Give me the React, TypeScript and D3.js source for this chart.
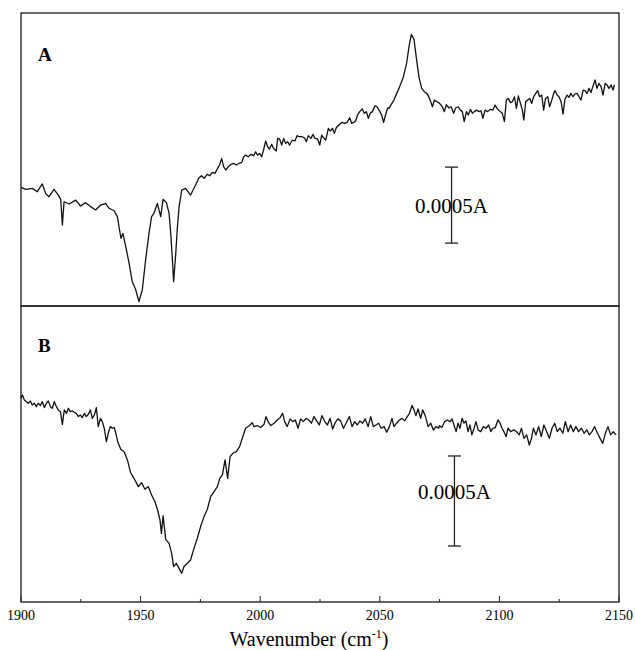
import React, { useEffect, useRef } from "react";
import * as d3 from "d3";

// wavenumber (cm-1) and absorbance (in 10^-3 A, arbitrary offset)
const wnA = [
  1900, 1902, 1904.7, 1906.8, 1908.9, 1910.3, 1911.7, 1913.8, 1915.6, 1916.6, 1917.3, 1918.0,
  1920.1, 1922.9, 1924.9, 1927.0, 1929.1, 1931.2, 1933.3, 1935.4, 1936.8, 1938.9, 1940.3, 1941.2,
  1941.8, 1942.6, 1943.8, 1945.2, 1946.5, 1947.9, 1949.3, 1950.7, 1952.1, 1953.5, 1954.6, 1955.6,
  1957.0, 1958.4, 1959.4, 1960.8, 1961.9, 1962.6, 1963.3, 1963.8, 1964.7, 1965.4, 1966.1, 1967.2,
  1968.8, 1970.9, 1973.0,
  1974.4, 1975.5, 1976.6, 1977.8, 1978.9, 1980.0, 1981.1, 1982.2, 1983.0, 1983.9, 1984.7, 1985.6,
  1986.7, 1987.8, 1988.9, 1990.0, 1991.1, 1992.3, 1993.1, 1993.9, 1995.0, 1996.2, 1997.3, 1998.1,
  1998.9, 1999.8, 2000.6, 2001.4, 2002.3, 2003.1, 2003.9, 2004.8, 2005.6, 2006.7, 2007.3, 2008.1,
  2009.0, 2009.8, 2010.6, 2011.5, 2012.3, 2013.4, 2014.5, 2015.4, 2016.2, 2017.3, 2018.5, 2019.3,
  2020.1, 2021.2, 2022.1, 2022.9, 2024.0, 2024.9, 2025.7, 2026.5, 2027.4, 2028.5, 2029.3, 2030.2,
  2031.0, 2031.8, 2032.9, 2034.1, 2035.2, 2036.3, 2037.4, 2038.2, 2039.1, 2039.9, 2040.7, 2041.6,
  2042.7, 2043.5, 2044.4, 2045.2, 2046.0, 2046.9, 2048.0, 2048.8, 2049.7, 2050.8, 2051.6, 2052.4,
  2053.3,
  2053.8, 2055.9, 2058.0, 2059.8, 2061.2, 2062.2, 2063.2, 2064.3, 2065.4, 2066.4,
  2067.5, 2068.6, 2069.7, 2070.8, 2072.0, 2072.8, 2073.9, 2075.0, 2076.1, 2077.0, 2077.8, 2078.9,
  2079.8, 2080.9, 2081.7, 2082.8, 2083.7, 2084.5, 2085.3, 2086.2, 2087.0, 2087.9, 2088.7, 2089.5,
  2090.4, 2091.5, 2092.3, 2093.1, 2094.0, 2095.1, 2096.2, 2097.3, 2098.2, 2099.3, 2100.4, 2101.2,
  2102.1, 2102.9, 2103.7, 2104.6, 2105.4, 2106.3, 2107.1, 2107.9, 2108.8, 2109.6, 2110.2, 2111.0,
  2111.8, 2112.7, 2113.5, 2114.3, 2115.2, 2116.0, 2116.8, 2117.7, 2118.5, 2119.3, 2120.2, 2121.0,
  2121.9, 2122.7, 2123.3, 2124.1, 2124.9, 2125.8, 2126.6, 2127.4, 2128.3, 2129.1, 2129.9, 2130.8,
  2131.6, 2132.4, 2133.3, 2134.1, 2135.0, 2135.8, 2136.6, 2137.5, 2138.3, 2139.1, 2140.0, 2140.8,
  2141.6, 2142.5, 2143.3, 2144.2, 2145.0, 2145.8, 2146.7, 2147.5, 2148.1,
];
const absA = [
  0.781, 0.768, 0.774, 0.752, 0.803, 0.741, 0.719, 0.768, 0.730, 0.702, 0.533, 0.686,
  0.671, 0.697, 0.658, 0.680, 0.654, 0.632, 0.664, 0.675, 0.643, 0.627, 0.588, 0.500,
  0.445, 0.478, 0.390, 0.281, 0.160, 0.110, 0.029, 0.105, 0.303, 0.478, 0.588, 0.610,
  0.675, 0.588, 0.702, 0.680, 0.610, 0.478, 0.303, 0.160, 0.346, 0.522, 0.654, 0.763,
  0.774, 0.730, 0.796,
  0.844, 0.857, 0.840, 0.866, 0.857, 0.879, 0.873, 0.906, 0.928, 0.971, 0.917, 0.895,
  0.917, 0.932, 0.939, 0.928, 0.939, 0.945, 0.982, 0.993, 0.982, 0.998, 0.989, 1.015,
  0.993, 1.004, 0.982, 1.026, 1.086, 1.048, 1.033, 1.064, 1.037, 1.020, 1.103, 1.099,
  1.059, 1.103, 1.070, 1.081, 1.059, 1.092, 1.086, 1.121, 1.114, 1.114, 1.107, 1.081,
  1.121, 1.103, 1.129, 1.103, 1.099, 1.059, 1.125, 1.107, 1.092, 1.169, 1.151, 1.169,
  1.136, 1.173, 1.191, 1.208, 1.202, 1.208, 1.239, 1.202, 1.208, 1.217, 1.257, 1.279,
  1.296, 1.268, 1.279, 1.235, 1.268, 1.279, 1.318, 1.311, 1.289, 1.257, 1.208, 1.257,
  1.303,
  1.300, 1.355, 1.432, 1.504, 1.596, 1.706, 1.787, 1.754, 1.618, 1.504,
  1.432, 1.410, 1.399, 1.366, 1.311, 1.355, 1.344, 1.333, 1.311, 1.279, 1.325, 1.303,
  1.311, 1.268, 1.303, 1.311, 1.289, 1.279, 1.213, 1.279, 1.257, 1.294, 1.268, 1.279,
  1.289, 1.279, 1.285, 1.235, 1.289, 1.279, 1.294, 1.289, 1.322, 1.294, 1.279, 1.268,
  1.213, 1.355, 1.366, 1.338, 1.344, 1.377, 1.300, 1.382, 1.333, 1.289, 1.224, 1.344,
  1.355, 1.366, 1.333, 1.377, 1.399, 1.417, 1.377, 1.388, 1.289, 1.366, 1.377, 1.311,
  1.355, 1.399, 1.417, 1.388, 1.377, 1.344, 1.263, 1.360, 1.388, 1.373, 1.399, 1.377,
  1.395, 1.399, 1.377, 1.355, 1.421, 1.417, 1.399, 1.432, 1.404, 1.447, 1.487, 1.432,
  1.465, 1.443, 1.388, 1.465, 1.454, 1.432, 1.454, 1.421, 1.454,
];

const wnB = [
  1900.0, 1900.6, 1901.4, 1902.2, 1903.1, 1903.9, 1904.7, 1905.6, 1906.4, 1907.2, 1908.1, 1908.9,
  1909.8, 1910.6, 1911.4, 1912.3, 1913.1, 1913.9, 1914.8, 1915.6, 1916.5, 1917.3, 1918.1, 1919.0,
  1919.8, 1920.6, 1921.5, 1922.3, 1923.1, 1924.0, 1924.8, 1925.6, 1926.5, 1927.3, 1928.2, 1929.0,
  1929.8, 1930.7, 1931.5, 1932.3, 1933.2, 1934.0, 1934.8, 1935.7, 1936.5, 1937.3, 1938.2, 1939.0,
  1939.8, 1940.4,
  1941.7, 1943.1, 1944.5, 1945.8, 1947.2, 1949.1, 1950.4, 1951.8, 1953.2, 1954.6, 1956.0, 1957.1,
  1958.1, 1958.7, 1959.4, 1960.5, 1961.9, 1963.0, 1963.8, 1964.9, 1966.1, 1967.2, 1968.1, 1969.5,
  1970.9, 1972.3, 1973.7, 1975.1, 1976.5, 1977.9, 1979.3, 1980.7, 1982.1, 1983.1, 1984.2, 1985.3,
  1986.4, 1987.4, 1988.6, 1990.0, 1991.4, 1992.8, 1993.9, 1995.3, 1996.7,
  1997.4, 1998.8, 2000.2, 2001.6, 2002.4, 2003.3, 2004.4, 2005.8, 2007.2, 2008.3, 2009.4, 2010.2,
  2011.3, 2012.5, 2013.6, 2014.7, 2015.8, 2016.9, 2018.0, 2019.2, 2020.3, 2021.4, 2022.5, 2023.6,
  2024.7, 2025.8, 2027.0, 2028.1, 2029.2, 2030.3, 2031.4, 2032.5, 2033.6, 2034.8, 2035.9, 2037.3,
  2038.4, 2039.5, 2040.6, 2041.7, 2042.8, 2043.9, 2045.1, 2046.2, 2047.3, 2048.4, 2049.5, 2050.6,
  2051.8, 2052.9, 2054.0, 2055.1, 2055.9, 2057.0, 2058.2, 2059.3, 2060.4, 2061.5, 2062.4, 2063.5,
  2064.3, 2065.1, 2066.0, 2067.1, 2067.9, 2069.0, 2070.2, 2071.3, 2072.4, 2073.5, 2074.6,
  2074.9, 2076.0, 2077.1, 2078.2, 2079.4, 2080.2, 2081.0, 2081.9, 2082.7, 2083.5, 2084.4, 2085.2,
  2086.0, 2086.9, 2087.7, 2088.5, 2089.4, 2090.2, 2091.1, 2092.2, 2093.3, 2094.4, 2095.5, 2096.4,
  2097.2, 2098.3, 2099.4, 2100.3, 2101.1, 2101.9, 2102.8, 2103.6, 2104.7, 2106.1, 2107.2, 2108.3,
  2109.2, 2110.3, 2111.4, 2112.5, 2113.4, 2114.2, 2115.3, 2116.4, 2117.5, 2118.6, 2119.8, 2120.9,
  2122.0, 2123.1, 2124.2, 2125.3, 2126.5, 2127.6, 2128.7, 2129.8, 2130.9, 2132.0, 2133.1, 2134.3,
  2135.4, 2136.5, 2137.6, 2138.7, 2139.8, 2141.0, 2142.1, 2143.2, 2144.3, 2145.4, 2146.5, 2147.6,
  2148.8,
];
const absB = [
  1.131, 1.150, 1.122, 1.113, 1.104, 1.117, 1.094, 1.104, 1.085, 1.104, 1.091, 1.113,
  1.080, 1.104, 1.117, 1.085, 1.076, 1.113, 1.085, 1.067, 1.057, 0.987, 1.067, 1.048,
  1.076, 1.057, 1.061, 1.054, 1.048, 1.030, 1.039, 1.024, 1.048, 1.030, 1.043, 1.067,
  1.020, 1.039, 1.080, 0.974, 1.020, 1.002, 0.965, 0.891, 0.937, 0.974, 0.965, 0.969,
  0.928, 0.891,
  0.848, 0.835, 0.789, 0.719, 0.687, 0.641, 0.663, 0.626, 0.641, 0.594, 0.557, 0.511,
  0.456, 0.381, 0.478, 0.348, 0.326, 0.270, 0.196, 0.215, 0.187, 0.159, 0.196, 0.215,
  0.233, 0.298, 0.354, 0.419, 0.474, 0.515, 0.585, 0.613, 0.641, 0.687, 0.706, 0.789,
  0.687, 0.807, 0.826, 0.835, 0.863, 0.922, 0.965, 0.978, 0.996,
  0.974, 0.980, 0.969, 0.987, 1.030, 1.002, 0.980, 0.993, 1.011, 1.024, 1.048, 1.002,
  0.974, 1.017, 1.002, 1.011, 0.965, 1.017, 1.002, 1.020, 1.011, 0.993, 1.030, 1.006,
  0.983, 1.035, 1.002, 0.983, 1.020, 0.961, 0.998, 1.017, 1.006, 0.965, 0.993, 1.030,
  0.974, 1.002, 0.983, 1.006, 0.993, 1.017, 0.974, 1.030, 0.974, 0.983, 0.993, 0.965,
  0.974, 0.943, 0.974, 1.020, 0.974, 0.993, 1.011, 1.020, 1.006, 1.030, 1.048, 1.091,
  1.067, 1.035, 1.072, 1.020, 1.067, 1.035, 0.974, 0.993, 0.955, 0.974, 0.965,
  0.980, 0.969, 1.002, 1.011, 1.002, 1.017, 0.983, 0.946, 0.993, 0.965, 1.020, 0.993,
  1.006, 0.946, 0.983, 0.928, 0.965, 1.002, 0.956, 0.946, 0.974, 0.965, 0.983, 0.946,
  0.965, 0.969, 1.011, 0.993, 0.965, 0.946, 0.919, 0.965, 0.946, 0.956, 0.946, 0.928,
  0.965, 0.909, 0.928, 0.872, 0.909, 0.965, 0.928, 0.974, 0.919, 0.983, 0.946, 0.909,
  0.965, 0.993, 0.946, 0.965, 0.937, 1.002, 0.946, 0.983, 0.946, 0.974, 0.946, 0.965,
  0.937, 0.956, 0.928, 0.946, 0.974, 0.937, 0.909, 0.881, 0.937, 0.974, 0.928, 0.946,
  0.928,
];

const xTicks = [1900, 1950, 2000, 2050, 2100, 2150];
const xMinorTicks = [1925, 1975, 2025, 2075, 2125];
const panelLabels = ["A", "B"];
const scaleBarText = "0.0005A";

const App = () => {
  const svgRef = useRef(null);

  useEffect(() => {
    const svg = d3.select(svgRef.current);
    svg.selectAll("*").remove();

    const left = 21, right = 619;
    const topA = 13, midY = 306, bottomB = 602;
    const serif = "'Liberation Serif', 'Times New Roman', serif";

    const x = d3.scaleLinear().domain([1900, 2150]).range([left, right]);
    const yA = d3.scaleLinear().domain([0, 1.928]).range([midY, topA]);
    const yB = d3.scaleLinear().domain([0, 1.644]).range([bottomB, midY]);

    const panels = [
      { wn: wnA, ab: absA, y: yA, top: topA, bottom: midY, bar: [2080, 0.414], labelY: 61, textY: 213 },
      { wn: wnB, ab: absB, y: yB, top: midY, bottom: bottomB, bar: [2081.2, 0.311], labelY: 352, textY: 499 },
    ];

    panels.forEach((p, i) => {
      svg.append("rect")
        .attr("x", left).attr("y", p.top)
        .attr("width", right - left).attr("height", p.bottom - p.top)
        .attr("fill", "none").attr("stroke", "#1a1a1a").attr("stroke-width", 1.3);

      const pts = p.wn.map((w, k) => [w, p.ab[k]]);
      const line = d3.line().x(d => x(d[0])).y(d => p.y(d[1]));
      svg.append("path")
        .datum(pts)
        .attr("d", line)
        .attr("fill", "none")
        .attr("stroke", "#111")
        .attr("stroke-width", 1.3)
        .attr("stroke-linejoin", "round");

      svg.append("text")
        .attr("x", 38).attr("y", p.labelY)
        .attr("font-family", serif).attr("font-weight", "bold").attr("font-size", 19)
        .text(panelLabels[i]);

      // 0.0005 A scale bar
      const bx = x(p.bar[0]);
      const b0 = p.y(p.bar[1]);
      const b1 = p.y(p.bar[1] + 0.5);
      const g = svg.append("g").attr("stroke", "#222").attr("stroke-width", 1.3);
      g.append("line").attr("x1", bx).attr("x2", bx).attr("y1", b0).attr("y2", b1);
      g.append("line").attr("x1", bx - 6.5).attr("x2", bx + 6.5).attr("y1", b0).attr("y2", b0);
      g.append("line").attr("x1", bx - 6.5).attr("x2", bx + 6.5).attr("y1", b1).attr("y2", b1);
      svg.append("text")
        .attr("x", bx).attr("y", p.textY)
        .attr("text-anchor", "middle")
        .attr("font-family", serif).attr("font-size", 21)
        .text(scaleBarText);
    });

    // bottom axis, ticks pointing inward
    const axis = svg.append("g").attr("stroke", "#222").attr("stroke-width", 1);
    xTicks.forEach(t => {
      axis.append("line").attr("x1", x(t)).attr("x2", x(t)).attr("y1", bottomB).attr("y2", bottomB - 6);
    });
    xMinorTicks.forEach(t => {
      axis.append("line").attr("x1", x(t)).attr("x2", x(t)).attr("y1", bottomB).attr("y2", bottomB - 3);
    });
    svg.selectAll(".tick-label")
      .data(xTicks)
      .enter().append("text")
      .attr("class", "tick-label")
      .attr("x", d => x(d))
      .attr("y", 620)
      .attr("text-anchor", "middle")
      .attr("font-family", serif).attr("font-size", 14)
      .text(d => d);

    const title = svg.append("text")
      .attr("x", 309).attr("y", 646)
      .attr("text-anchor", "middle")
      .attr("font-family", serif).attr("font-size", 20);
    title.append("tspan").text("Wavenumber (cm");
    title.append("tspan").attr("font-size", 12).attr("dy", -8).text("-1");
    title.append("tspan").attr("dy", 8).text(")");
  }, []);

  return (
    <svg
      ref={svgRef}
      width={635}
      height={650}
      style={{ position: "absolute", left: 0, top: 0, background: "#fff" }}
    />
  );
};

export default App;
